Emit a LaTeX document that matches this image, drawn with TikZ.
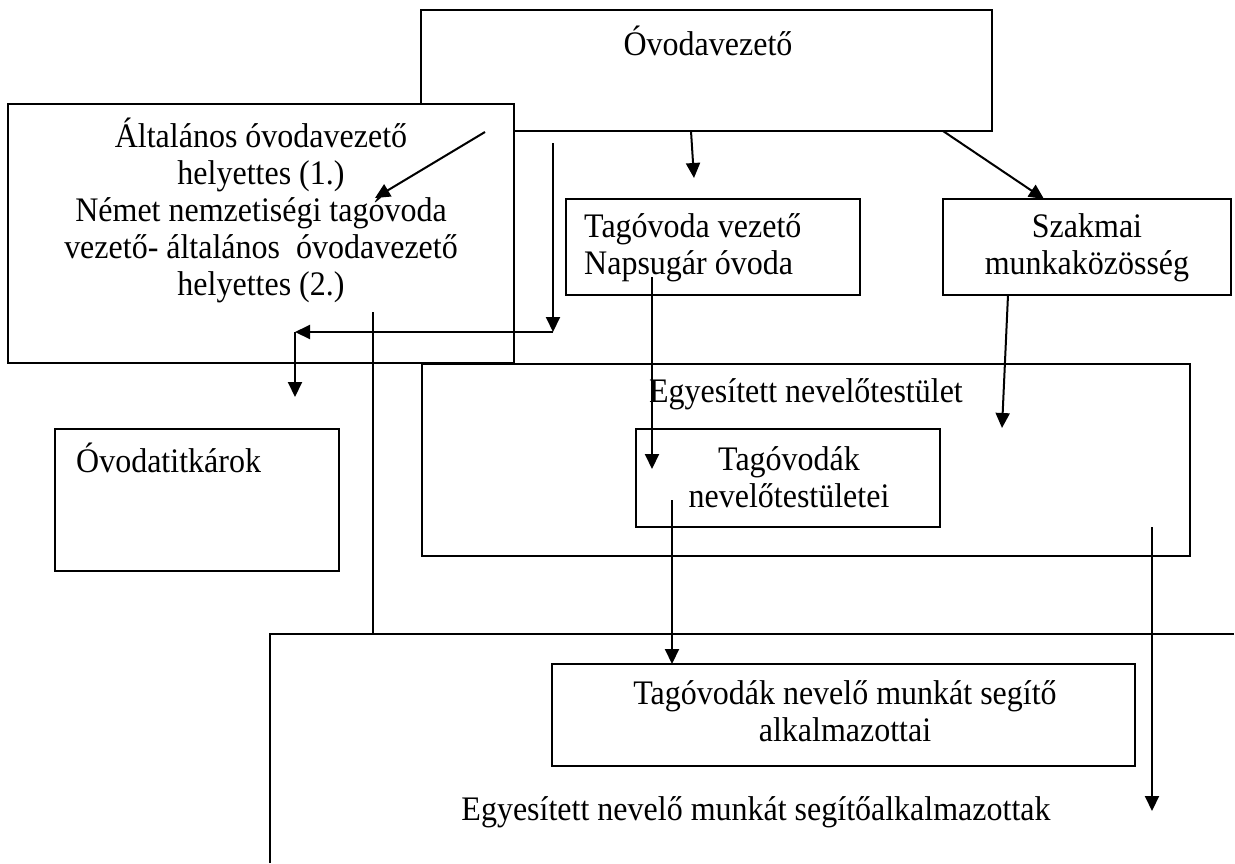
\documentclass[tikz,border=0pt]{standalone}
\usepackage{fontspec}
\setmainfont{Liberation Serif}[FakeStretch=0.93]
\usetikzlibrary{arrows.meta}
\begin{document}
\begin{tikzpicture}[x=1pt,y=-1pt,
  box/.style={draw=black, fill=white, line width=1.7pt, inner sep=0pt},
  frame/.style={draw=black, line width=1.7pt},
  txt/.style={font=\fontsize{34.4}{37}\selectfont, align=center, inner sep=0pt},
  con/.style={draw=black, line width=2pt},
  arr/.style={con, -{Triangle[length=15pt,width=14pt]}}]
\useasboundingbox[fill=white] (0,0) rectangle (1235,863);

% boxes
\node[box, minimum width=571pt, minimum height=121pt] (ov) at (706.5,70.5) {};
\node[box, minimum width=768pt, minimum height=192pt] (egy) at (806,460) {};
\node[box, minimum width=506pt, minimum height=259pt] (alt) at (261,233.5) {};
\node[box, minimum width=294pt, minimum height=96pt] (tv) at (713,247) {};
\node[box, minimum width=288pt, minimum height=96pt] (sz) at (1087,247) {};
\node[box, minimum width=284pt, minimum height=142pt] (tit) at (197,500) {};
\node[box, minimum width=304pt, minimum height=98pt] (tn) at (788,478) {};
\coordinate (b1) at (270,863);
\coordinate (b2) at (270,634);
\coordinate (b3) at (1234,634);
\draw[frame] (b1) -- (b2) -- (b3);
\node[box, minimum width=583pt, minimum height=102pt] (ts) at (843.5,715) {};

% texts
\node[txt] (tov) at (708,41) {Óvodavezető};
\node[txt] (talt) at (261,210) {Általános óvodavezető\\helyettes (1.)\\Német nemzetiségi tagóvoda\\vezető- általános\ \ óvodavezető\\helyettes (2.)};
\node[txt, anchor=west, align=left] (ttv) at (584,248) {Tagóvoda vezető\\Napsugár óvoda};
\node[txt] (tsz) at (1087,248) {Szakmai\\munkaközösség};
\node[txt] (tegy) at (806,394) {Egyesített nevelőtestület};
\node[txt, anchor=west] (ttit) at (76,458) {Óvodatitkárok};
\node[txt] (ttn) at (789,477) {Tagóvodák\\nevelőtestületei};
\node[txt] (tts) at (845,711) {Tagóvodák nevelő munkát segítő\\alkalmazottai};
\node[txt] (tbig) at (756,812) {Egyesített nevelő munkát segítőalkalmazottak};

% connector end points
\coordinate (a1s) at (485,132); \coordinate (a1e) at (375,198);
\coordinate (a2s) at (691,131); \coordinate (a2e) at (694,178);
\coordinate (a3s) at (943,131); \coordinate (a3e) at (1044,199);
\coordinate (a4s) at (553,143); \coordinate (a4e) at (553,332);
\coordinate (a5e) at (295,332);
\coordinate (a6e) at (295,397);
\coordinate (l1s) at (373,312);
\coordinate (a7s) at (652,277); \coordinate (a7e) at (652,469);
\coordinate (a8s) at (1008,295); \coordinate (a8e) at (1002,428);
\coordinate (a9s) at (672,500); \coordinate (a9e) at (672,664);
\coordinate (a10s) at (1152,527); \coordinate (a10e) at (1152,811);

% connectors
\draw[arr] (a1s) -- (a1e);
\draw[arr] (a2s) -- (a2e);
\draw[arr] (a3s) -- (a3e);
\draw[arr] (a4s) -- (a4e);
\draw[arr] (a4e) -- (a5e);
\draw[arr] (a5e) -- (a6e);
\draw[con] (l1s) -- (l1s |- b2);
\draw[arr] (a7s) -- (a7e);
\draw[arr] (a8s) -- (a8e);
\draw[arr] (a9s) -- (a9e);
\draw[arr] (a10s) -- (a10e);
\end{tikzpicture}
\end{document}
